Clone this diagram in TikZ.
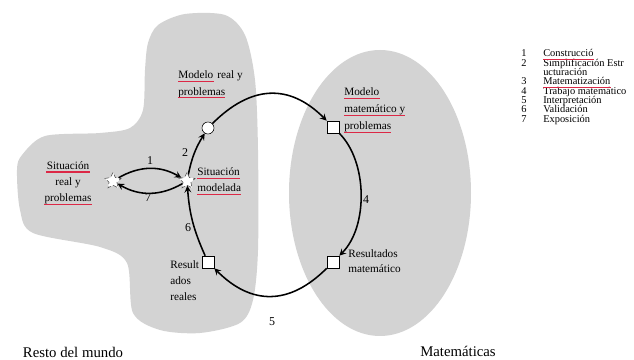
\documentclass[tikz,border=0pt]{standalone}
\usepackage{fontspec}
\setmainfont{Liberation Serif}
\usetikzlibrary{arrows,shapes.geometric,positioning}

\definecolor{zonegray}{RGB}{211,211,211}
\definecolor{subrayado}{RGB}{220,40,70}

\tikzset{
  estrella/.style={star,star points=5,star point ratio=2,draw=black!70,densely dashed,fill=white,minimum size=0.42cm,inner sep=0pt},
  circulo/.style={circle,draw,fill=white,thin,minimum size=0.3cm,inner sep=0pt},
  cuadro/.style={rectangle,draw,fill=white,thin,minimum size=0.3cm,inner sep=0pt},
  linea/.style={font=\fontsize{8}{10}\selectfont,inner sep=0pt,anchor=base west},
  num/.style={font=\fontsize{8.5}{10}\selectfont,inner sep=0pt},
  ley/.style={font=\fontsize{7.4}{8}\selectfont,inner sep=0pt,anchor=base west},
  flecha/.style={->,>=stealth,line width=1.1pt},
  subr/.style={draw=subrayado,line width=0.8pt}
}

\begin{document}
\begin{tikzpicture}[x=0.025cm,y=0.025cm]
\useasboundingbox (0,0) rectangle (634,360);

% zonas
\fill[zonegray] plot [smooth cycle] coordinates {
	(158,335) (185,346) (225,345) (245,325)
	(255,280) (258,210) (258,110) (253,60)
	(240,37) (200,27) (160,30) (133,47)
	(127,97) (100,113) (33,127) (20,150)
	(17,190) (22,205) (45,224) (100,227)
	(130,232) (143,250) (145,290) (148,317)
};
\fill[zonegray] (380,167) ellipse [x radius=91, y radius=143];

% puntos del ciclo
\node[estrella] (sr) at (113,179) {};
\node[estrella] (sm) at (187,179) {};
\node[circulo]  (mr) at (208,232) {};
\node[cuadro]   (mm) at (333,233) {};
\node[cuadro]   (rm) at (333,98)  {};
\node[cuadro]   (rr) at (208,98)  {};

% flechas
\draw[flecha] (sr) to[bend left=30] (sm);
\draw[flecha] (sm) to[bend left=30] (sr);
\draw[flecha] (sm) to[bend left=10] (mr);
\draw[flecha] (mr) to[out=45,in=135,looseness=1.2] (mm);
\draw[flecha] (mm) to[out=-45,in=45,looseness=0.85] (rm);
\draw[flecha] (rm) to[out=-135,in=-45,looseness=1.2] (rr);
\draw[flecha] (rr) to[bend left=10] (sm);

% numeros
\node[num] (n1) at (150,199) {1};
\node[num] (n7) at (148,162) {7};
\node[num] (n2) at (185,207) {2};
\node[num] (n6) at (188,132) {6};
\node[num] (n4) at (366,160) {4};
\node[num] (n5) at (272,38)  {5};

% textos
\node[linea,anchor=base] (sr1) at (68,190.7) {Situación};
\node[linea,anchor=base] (sr2) at (68,174.5) {real y};
\node[linea,anchor=base] (sr3) at (68,158.3) {problemas};

\node[linea] (mr1) at (178,281) {Modelo};
\node[linea] (mr1b) at ([xshift=2.6pt]mr1.base east) {real y};
\node[linea] (mr2) at (178,264.8) {problemas};

\node[linea] (sm1) at (197,184) {Situación};
\node[linea] (sm2) at (197,168) {modelada};

\node[linea] (mm1) at (344,264.5) {Modelo};
\node[linea] (mm2) at (344,247.5) {matemático y};
\node[linea] (mm3) at (344,230.5) {problemas};

\node[linea] (rm1) at (348,102.5) {Resultados};
\node[linea] (rm2) at (348,87.5)  {matemático};

\node[linea] (rr1) at (170,91.5) {Result};
\node[linea] (rr2) at (170,75.3) {ados};
\node[linea] (rr3) at (170,59.1) {reales};

\node[font=\fontsize{10.5}{12}\selectfont,inner sep=0pt] (resto) at (73,8) {Resto del mundo};
\node[font=\fontsize{10.5}{12}\selectfont,inner sep=0pt] (mate) at (458,9) {Matemáticas};

% leyenda
\foreach \n/\t [count=\i] in {1/Construcció, 2/Simplificación Estr,
    /ucturación, 3/Matematización, 4/Trabajo matemático,
    5/Interpretación, 6/Validación, 7/Exposición} {
  \node[ley] (nl\i) at (521,{312.3-9.3*\i}) {\n};
  \node[ley] (tl\i) at (543,{312.3-9.3*\i}) {\t};
}

% subrayados
\foreach \u in {sr1,sr3,mr1,mr2,sm1,sm2,mm1,mm2,mm3,tl1,tl4}
  \draw[subr] ([yshift=-1.9pt]\u.base west) -- ([yshift=-1.9pt]\u.base east);

\end{tikzpicture}
\end{document}
